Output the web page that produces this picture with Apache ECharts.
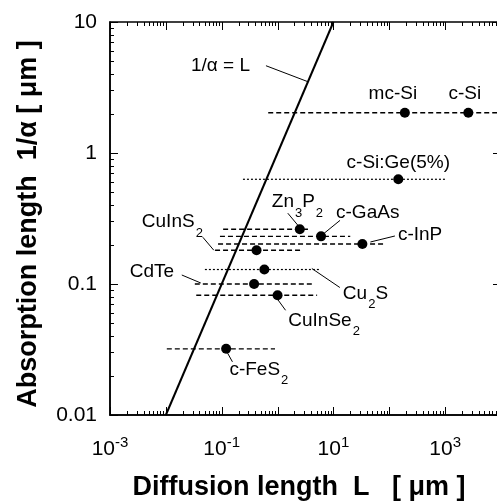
<!DOCTYPE html>
<html><head><meta charset="utf-8">
<script src="https://cdn.jsdelivr.net/npm/echarts@6/dist/echarts.min.js"></script>
<style>html,body{margin:0;padding:0;background:#fff}#c{width:497px;height:504px}</style>
</head><body><div id="c"></div>
<script>
// ---- data ----
const materials = ['c-Si','mc-Si','c-Si:Ge(5%)','Zn3P2','c-GaAs','c-InP','CuInS2','Cu2S','CdTe','CuInSe2','c-FeS2'];
const labelRich = ['c-Si','mc-Si','c-Si:Ge(5%)','Zn{s|3}P{s|2}','c-GaAs','c-InP','CuInS{s|2}','Cu{s|2}S','CdTe','CuInSe{s|2}','c-FeS{s|2}'];
const diffusionLength = [2600, 190, 145, 2.5, 6.0, 33, 0.42, 0.58, 0.38, 1.0, 0.12];      // L [µm]
const absorptionLength = [2.03, 2.03, 0.63, 0.262, 0.231, 0.202, 0.181, 0.129, 0.100, 0.082, 0.032]; // 1/alpha [µm]
const rangeMin = [0.68, null, 0.24, 0.106, 0.093, 0.086, 0.076, 0.050, 0.033, 0.035, 0.0104];
const rangeMax = [10000, null, 1000, 3.5, 20, 84, 2.6, 5.5, 4.1, 5.1, 0.90];
const rangeDotted = [false, false, true, false, false, false, false, true, false, false, false];
const identityLine = [[0.01, 0.01], [10, 10]];     // 1/alpha = L
const identityLabelAnchor = [3.5, 3.5];
const xTickExponents = [-3, -1, 1, 3];
const yTickValues = [0.01, 0.1, 1, 10];
const yTickLabels = ['0.01', '0.1', '1', '10'];
const minorMultipliers = [2, 3, 4, 5, 6, 7, 8, 9];
const xDecades = [-3, -2, -1, 0, 1, 2, 3, 4];
const yDecades = [-2, -1, 0, 1];

// ---- label layout (pixel offsets from the dot) ----
// [textDx, textDy, align, leaderFromDx, leaderFromDy, leaderToDx, leaderToDy]
const labelLayout = [
  [-3.5, -19, 'center', null],
  [-12, -19, 'center', null],
  [0, -17, 'center', null],
  [-28, -27, 'left', -12, -16, -2, -4],
  [15, -24, 'left', 3, -3, 19, -16],
  [35.5, -9, 'left', 8, -2, 32.5, -8],
  [-114.7, -28, 'left', -53.7, -13, -42.7, 0],
  [78.5, 24, 'left', 47.5, -1, 75.5, 18],
  [-124.3, -12, 'left', -72.3, -9, -53.3, -1],
  [10.7, 25, 'left', 0, 4, 8, 15],
  [3.3, 21, 'left', 1.3, 4, 6.3, 13]
];

const FONT = "'Liberation Sans', Arial, Helvetica, sans-serif";
const chart = echarts.init(document.getElementById('c'));

const series = [];
// horizontal ranges
materials.forEach((m, i) => {
  if (rangeMin[i] == null) return;
  series.push({
    type: 'line', name: m + ' range', symbol: 'none', silent: true,
    data: [[rangeMin[i], absorptionLength[i]], [rangeMax[i], absorptionLength[i]]],
    lineStyle: {color: '#000', width: rangeDotted[i] ? 1.2 : 1.4, type: rangeDotted[i] ? [2, 2] : [5, 3]},
    z: 2
  });
});
// identity line
series.push({
  type: 'line', name: '1/α = L', symbol: 'none', data: identityLine,
  lineStyle: {color: '#000', width: 2}, z: 3
});
// dots
series.push({
  type: 'scatter', name: 'materials', symbolSize: 10,
  itemStyle: {color: '#000', opacity: 1},
  data: materials.map((m, i) => [diffusionLength[i], absorptionLength[i]]), z: 5
});
// material labels + leaders
series.push({
  type: 'custom', name: 'labels', silent: true, z: 6,
  data: materials.map((m, i) => [diffusionLength[i], absorptionLength[i]]),
  renderItem: function (params, api) {
    const i = params.dataIndex;
    const p = api.coord([api.value(0), api.value(1)]);
    const L = labelLayout[i];
    const children = [{
      type: 'text',
      style: {
        text: labelRich[i], x: p[0] + L[0], y: p[1] + L[1],
        align: L[2], verticalAlign: 'middle',
        fontFamily: FONT, fontSize: 19, fill: '#000',
        rich: {s: {fontSize: 13, fontFamily: FONT, fill: '#000', padding: [22, 0, 0, 1]}}
      }
    }];
    if (L[3] != null) {
      children.push({type: 'line', shape: {x1: p[0] + L[3], y1: p[1] + L[4], x2: p[0] + L[5], y2: p[1] + L[6]},
        style: {stroke: '#000', lineWidth: 1}});
    }
    return {type: 'group', children: children};
  }
});
// identity line label
series.push({
  type: 'custom', name: 'identity label', silent: true, z: 6,
  data: [identityLabelAnchor],
  renderItem: function (params, api) {
    const p = api.coord([api.value(0), api.value(1)]);
    return {type: 'group', children: [
      {type: 'text', style: {text: '1/α = L', x: p[0] - 58, y: p[1] - 16, align: 'right', verticalAlign: 'middle',
        fontFamily: FONT, fontSize: 19, fill: '#000'}},
      {type: 'line', shape: {x1: p[0] - 42, y1: p[1] - 16, x2: p[0], y2: p[1]}, style: {stroke: '#000', lineWidth: 1}}
    ]};
  }
});
// major + minor ticks on all four sides (inward)
series.push({
  type: 'custom', name: 'ticks', silent: true, z: 10, clip: false,
  data: [[1, 1]],
  renderItem: function (params, api) {
    const ch = [];
    const top = api.coord([1, 10])[1], bottom = api.coord([1, 0.01])[1];
    const left = api.coord([0.001, 1])[0], right = api.coord([10000, 1])[0];
    function xt(v, len) {
      const x = Math.round(api.coord([v, 1])[0]) + 0.5;
      ch.push({type: 'line', shape: {x1: x, y1: bottom, x2: x, y2: bottom - len}, style: {stroke: '#000', lineWidth: 1}});
      ch.push({type: 'line', shape: {x1: x, y1: top, x2: x, y2: top + len}, style: {stroke: '#000', lineWidth: 1}});
    }
    function yt(v, len) {
      const y = Math.round(api.coord([1, v])[1]) + 0.5;
      ch.push({type: 'line', shape: {x1: left, y1: y, x2: left + len, y2: y}, style: {stroke: '#000', lineWidth: 1}});
      ch.push({type: 'line', shape: {x1: right, y1: y, x2: right - len, y2: y}, style: {stroke: '#000', lineWidth: 1}});
    }
    xDecades.forEach(d => {
      xt(Math.pow(10, d), 8);
      if (d < 4) minorMultipliers.forEach(m => xt(m * Math.pow(10, d), 4));
    });
    yDecades.forEach(d => {
      yt(Math.pow(10, d), 8);
      if (d < 1) minorMultipliers.forEach(m => yt(m * Math.pow(10, d), 4));
    });
    return {type: 'group', children: ch};
  }
});

function axisBase() {
  return {
    type: 'log', logBase: 10,
    axisLine: {show: true, onZero: false, lineStyle: {color: '#000', width: 1.5}},
    axisTick: {show: false},
    splitLine: {show: false}, minorTick: {show: false}, minorSplitLine: {show: false}
  };
}

chart.setOption({
  animation: false,
  backgroundColor: '#fff',
  grid: {left: 110, top: 22, width: 391, height: 393, containLabel: false, outerBoundsMode: 'none',
         show: true, borderColor: '#000', borderWidth: 1.5, backgroundColor: 'transparent'},
  xAxis: [
    Object.assign(axisBase(), {
      position: 'bottom', min: 0.001, max: 10000, splitNumber: 7,
      name: 'Diffusion length  L   [ μm ]', nameLocation: 'middle', nameGap: 59,
      nameTextStyle: {fontFamily: FONT, fontSize: 27, fontWeight: 'bold', color: '#000', padding: [0, 13, 0, 0]},
      axisLabel: {
        margin: 20, color: '#000', fontFamily: FONT, fontSize: 21,
        formatter: function (v) {
          const e = Math.round(Math.log10(v));
          return xTickExponents.indexOf(e) >= 0 ? '10{sup|' + e + '}' : '';
        },
        rich: {sup: {fontSize: 15, fontFamily: FONT, color: '#000', padding: [0, 0, 14, 0]}}
      }
    })
  ],
  yAxis: [
    Object.assign(axisBase(), {
      position: 'left', min: 0.01, max: 10, splitNumber: 3,
      name: 'Absorption length  1/α [ μm ]', nameLocation: 'middle', nameGap: 68,
      nameTextStyle: {fontFamily: FONT, fontSize: 27, fontWeight: 'bold', color: '#000', padding: [0, 11, 0, 0]},
      axisLabel: {
        margin: 13, color: '#000', fontFamily: FONT, fontSize: 21,
        formatter: function (v) {
          const e = Math.round(Math.log10(v));
          const idx = yTickValues.findIndex(t => Math.round(Math.log10(t)) === e);
          return idx >= 0 ? yTickLabels[idx] : '';
        }
      }
    })
  ],
  series: series
});
</script>
</body></html>
